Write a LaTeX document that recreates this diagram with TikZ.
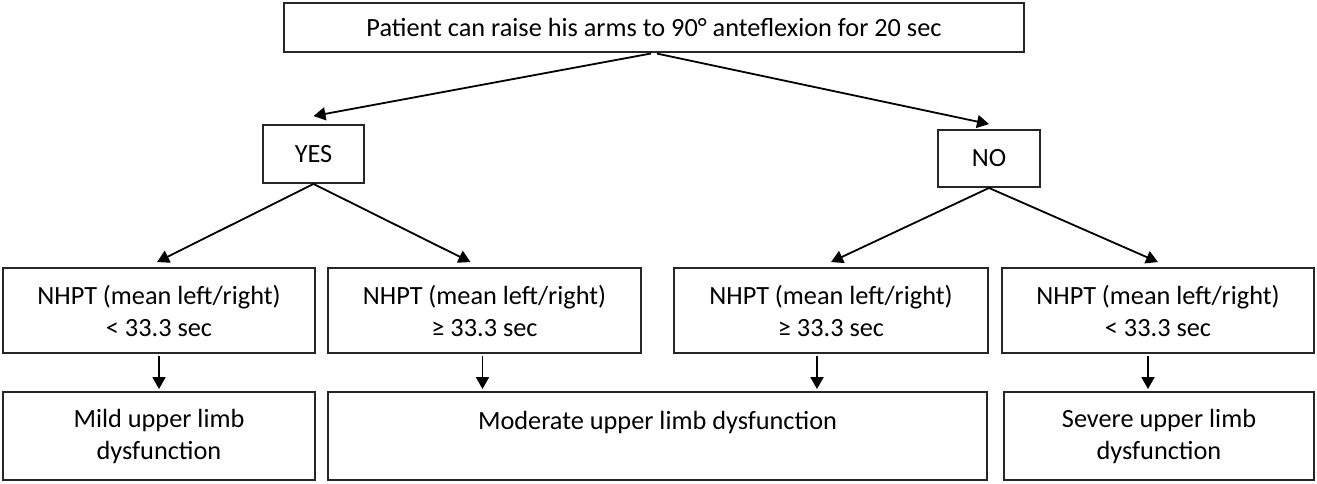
\documentclass[tikz,border=0pt]{standalone}
\usepackage{fontspec}
\setmainfont{Carlito}
\usetikzlibrary{arrows.meta}

\begin{document}
\begin{tikzpicture}[x=1pt, y=-1pt, >={Triangle[length=12pt,width=13pt]}]

% Stili dei blocchi
\tikzstyle{block} = [rectangle, draw=black!85, line width=1.9pt, inner sep=0pt,
    text centered, align=center, font=\fontsize{26.3}{32}\selectfont]
\tikzstyle{arrow} = [line width=1.8pt, ->]

\useasboundingbox (0,0) rectangle (1317,483);

% Nodi
\node (test) [block, minimum width=740pt, minimum height=49pt] at (654,27.5) {Patient can raise his arms to 90° anteflexion for 20 sec};
\node (yes) [block, minimum width=101pt, minimum height=58pt] at (313.5,154) {YES};
\node (no) [block, minimum width=102pt, minimum height=57pt] at (989,158.5) {NO};
\node (yeslow) [block, minimum width=312pt, minimum height=85pt] at (159,310.5) {NHPT (mean left/right)\\< 33.3 sec};
\node (yeshigh) [block, minimum width=313pt, minimum height=85pt] at (484.5,310.5) {NHPT (mean left/right)\\≥ 33.3 sec};
\node (nohigh) [block, minimum width=314pt, minimum height=85pt] at (831,310.5) {NHPT (mean left/right)\\≥ 33.3 sec};
\node (nolow) [block, minimum width=312pt, minimum height=85pt] at (1158,310.5) {NHPT (mean left/right)\\< 33.3 sec};
\node (mild) [block, minimum width=312pt, minimum height=88pt] at (159,436) {Mild upper limb\\dysfunction};
\node (moderate) [block, minimum width=659pt, minimum height=88pt] at (657.5,436) {Moderate upper limb dysfunction\\ \mbox{}};
\node (severe) [block, minimum width=310pt, minimum height=88pt] at (1159,436) {Severe upper limb\\dysfunction};

% Frecce
\draw [arrow, shorten <=3pt] (test.south) -- ([yshift=8pt]yes.north);
\draw [arrow, shorten <=3pt] (test.south) -- ([yshift=5pt]no.north);
\draw [arrow] (yes.south) -- ([xshift=-2pt, yshift=5pt]yeslow.north);
\draw [arrow] (yes.south) -- ([xshift=-14pt, yshift=5pt]yeshigh.north);
\draw [arrow] (no.south) -- ([yshift=5pt]nohigh.north);
\draw [arrow] (no.south) -- ([yshift=5pt]nolow.north);
\draw [arrow, shorten <=2pt, shorten >=2pt] (yeslow.south) -- (yeslow.south |- mild.north);
\draw [arrow, shorten <=2pt, shorten >=2pt] ([xshift=-2pt]yeshigh.south) -- ([xshift=-2pt]yeshigh.south |- moderate.north);
\draw [arrow, shorten <=2pt, shorten >=2pt] ([xshift=-14pt]nohigh.south) -- ([xshift=-14pt]nohigh.south |- moderate.north);
\draw [arrow, shorten <=2pt, shorten >=2pt] ([xshift=-10pt]nolow.south) -- ([xshift=-10pt]nolow.south |- severe.north);

\end{tikzpicture}
\end{document}
